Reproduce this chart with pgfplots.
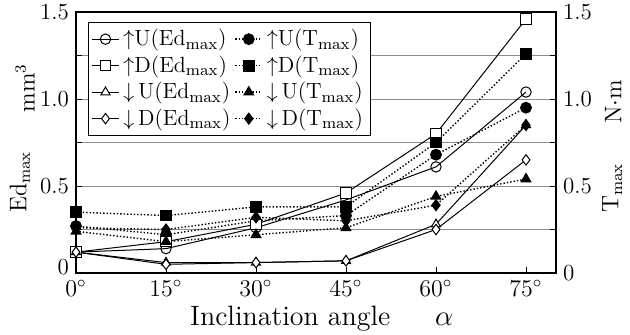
\documentclass[border=0pt]{standalone}
\usepackage{pgfplots}
\pgfplotsset{compat=1.18}
\begin{document}
\begin{tikzpicture}
\useasboundingbox (0,0) rectangle (315pt,167pt);
\begin{axis}[
  at={(38pt,30.5pt)}, anchor=south west,
  scale only axis, width=240pt, height=130.5pt,
  xmin=0, xmax=80, ymin=0, ymax=1.5,
  xtick={0,15,30,45,60,75},
  xticklabels={$0^\circ$,$15^\circ$,$30^\circ$,$45^\circ$,$60^\circ$,$75^\circ$},
  ytick={0,0.25,0.5,0.75,1,1.25,1.5},
  yticklabels={\raisebox{6pt}{0},,0.5,,1.0,,1.5},
  ymajorgrids, grid style={black!45, line width=0.4pt},
  axis line style={line width=0.9pt},
  tick style={black, line width=0.4pt}, major tick length=3pt,
  xtick pos=bottom, ytick pos=both,
  tick align=inside,
  clip=false,
  tick label style={font=\fontsize{11.5}{13}\selectfont},
  legend columns=2,
  legend cell align=left,
  legend style={at={(0.025,0.962)}, anchor=north west, draw=black, line width=0.5pt,
    font=\fontsize{11}{12}\selectfont, inner sep=1.5pt, column sep=0pt, row sep=-0.5pt},
  legend image code/.code={\draw[mark repeat=2,mark phase=2,#1] plot coordinates {(0pt,0pt) (6.75pt,0pt) (13.5pt,0pt)};},
  ed/.style={black, line width=0.5pt, mark size=2.6pt, mark options={solid, fill=white, line width=0.5pt}},
  tq/.style={black, line width=0.7pt, densely dotted, mark size=2.6pt, mark options={solid, fill=black}},
]
\addplot[ed, mark=o] coordinates {(0,0.12)(15,0.14)(30,0.26)(45,0.42)(60,0.61)(75,1.04)};
\addlegendentry{$\uparrow$U(Ed$_{\mathrm{max}}$)}
\addplot[tq, mark=*] coordinates {(0,0.27)(15,0.22)(30,0.30)(45,0.33)(60,0.68)(75,0.95)};
\addlegendentry{$\uparrow$U(T$_{\mathrm{max}}$)}
\addplot[ed, mark=square*] coordinates {(0,0.12)(15,0.18)(30,0.28)(45,0.46)(60,0.80)(75,1.46)};
\addlegendentry{$\uparrow$D(Ed$_{\mathrm{max}}$)}
\addplot[tq, mark=square*] coordinates {(0,0.35)(15,0.33)(30,0.38)(45,0.38)(60,0.75)(75,1.26)};
\addlegendentry{$\uparrow$D(T$_{\mathrm{max}}$)}
\addplot[ed, mark=triangle*] coordinates {(0,0.12)(15,0.06)(30,0.06)(45,0.07)(60,0.28)(75,0.85)};
\addlegendentry{$\downarrow$\,U(Ed$_{\mathrm{max}}$)}
\addplot[tq, mark=triangle*] coordinates {(0,0.24)(15,0.18)(30,0.22)(45,0.26)(60,0.44)(75,0.54)};
\addlegendentry{$\downarrow$\,U(T$_{\mathrm{max}}$)}
\addplot[ed, mark=diamond*] coordinates {(0,0.12)(15,0.05)(30,0.06)(45,0.07)(60,0.25)(75,0.65)};
\addlegendentry{$\downarrow$\,D(Ed$_{\mathrm{max}}$)}
\addplot[tq, mark=diamond*] coordinates {(0,0.26)(15,0.25)(30,0.32)(45,0.30)(60,0.39)(75,0.85)};
\addlegendentry{$\downarrow$\,D(T$_{\mathrm{max}}$)}
\node[rotate=90, font=\fontsize{12}{14}\selectfont] at (rel axis cs:-0.106,0.709) {mm$^3$};
\node[rotate=90, font=\fontsize{12}{14}\selectfont] at (rel axis cs:-0.117,0.349) {Ed$_{\mathrm{max}}$};
\node[rotate=90, font=\fontsize{12}{14}\selectfont] at (rel axis cs:1.119,0.655) {N$\cdot$m};
\node[rotate=90, font=\fontsize{12}{14}\selectfont] at (rel axis cs:1.117,0.326) {T$_{\mathrm{max}}$};
\node[font=\fontsize{14}{16}\selectfont] at (rel axis cs:0.512,-0.176) {Inclination angle\hspace{1.6em}$\alpha$};
\end{axis}
\begin{axis}[
  at={(38pt,30.5pt)}, anchor=south west,
  scale only axis, width=240pt, height=130.5pt,
  xmin=0, xmax=80, ymin=0, ymax=1.5,
  axis x line=none, axis y line*=right,
  ytick={0,0.5,1,1.5},
  yticklabels={0,0.5,1.0,1.5},
  y axis line style={line width=0.9pt, -},
  tick style={black, line width=0.4pt}, major tick length=3pt,
  tick align=inside,
  tick label style={font=\fontsize{11.5}{13}\selectfont},
]
\end{axis}
\end{tikzpicture}
\end{document}
